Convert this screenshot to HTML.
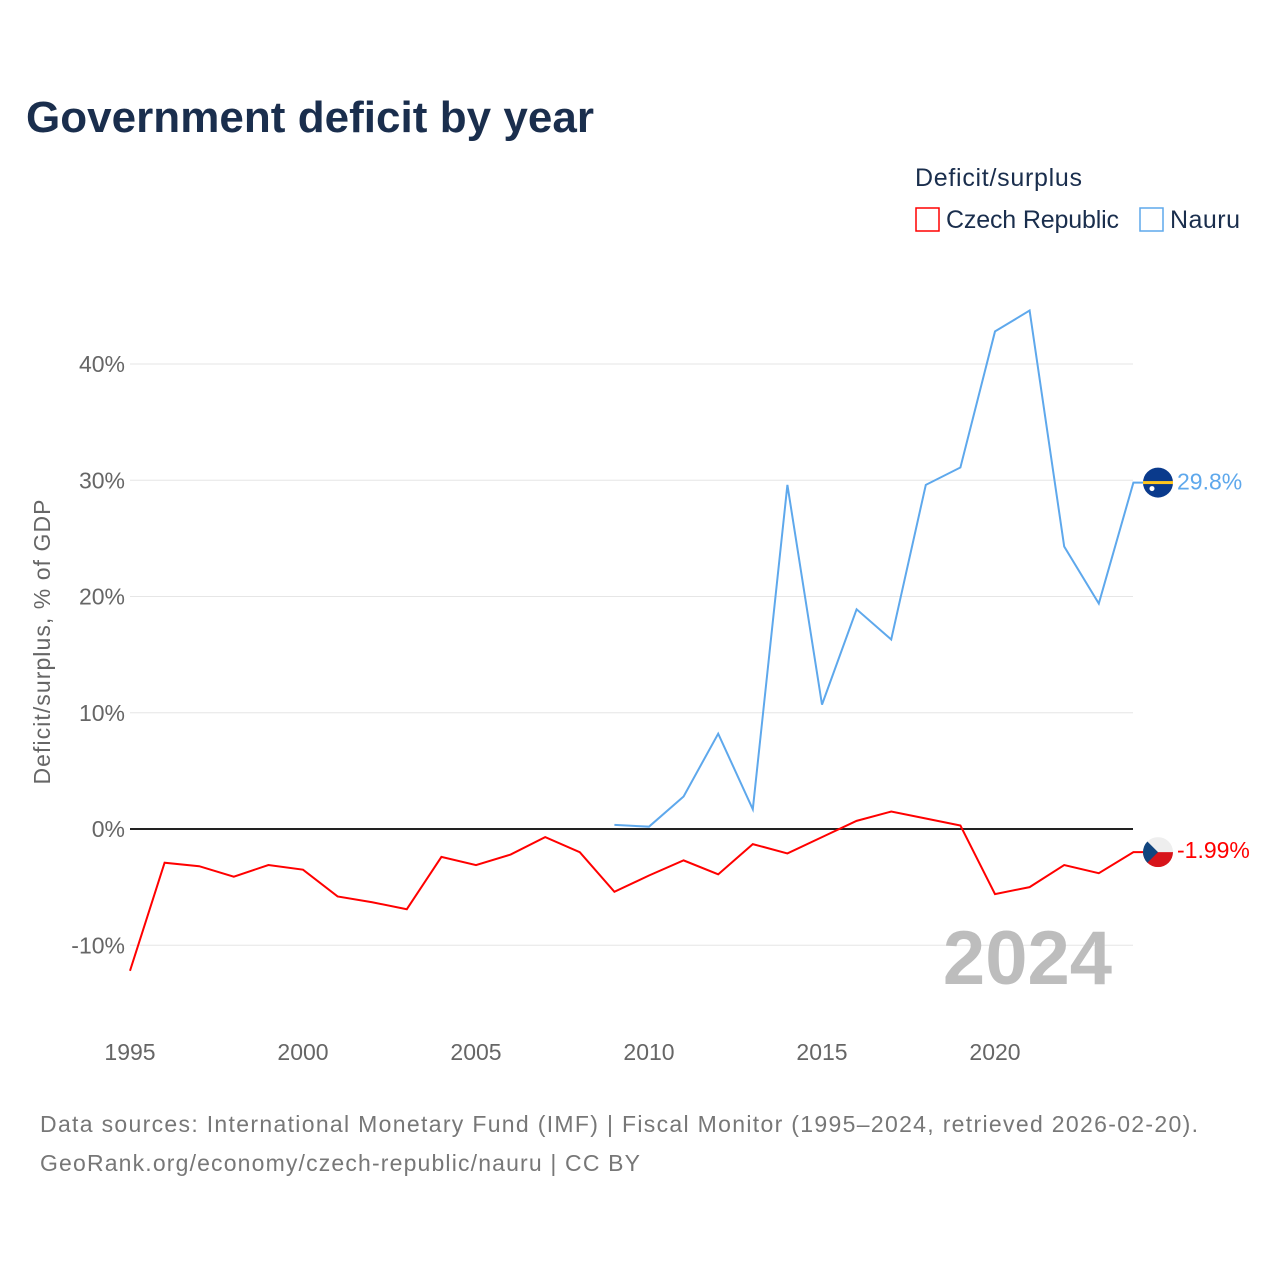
<!DOCTYPE html>
<html><head><meta charset="utf-8">
<style>
body{margin:0;background:#fff;font-family:"Liberation Sans",sans-serif}
#wrap{position:relative;width:1280px;height:1280px;overflow:hidden}
</style></head>
<body>
<div id="wrap">
<svg id="chart" width="1280" height="1280" style="font-family:'Liberation Sans',sans-serif"></svg>
</div>
<script>
const years = [1995,1996,1997,1998,1999,2000,2001,2002,2003,2004,2005,2006,2007,2008,2009,2010,2011,2012,2013,2014,2015,2016,2017,2018,2019,2020,2021,2022,2023,2024];
const czechValues = [-12.2,-2.9,-3.2,-4.1,-3.1,-3.5,-5.8,-6.3,-6.9,-2.4,-3.1,-2.2,-0.7,-2.0,-5.4,-4.0,-2.7,-3.9,-1.3,-2.1,-0.7,0.7,1.5,0.9,0.3,-5.6,-5.0,-3.1,-3.8,-1.99];
const nauruYears = [2009,2010,2011,2012,2013,2014,2015,2016,2017,2018,2019,2020,2021,2022,2023,2024];
const nauruValues = [0.35,0.2,2.8,8.2,1.7,29.6,10.7,18.9,16.3,29.6,31.1,42.8,44.6,24.3,19.4,29.8];
const yTicks = [-10,0,10,20,30,40];
const yTickLabels = ["-10%","0%","10%","20%","30%","40%"];
const xTicks = [1995,2000,2005,2010,2015,2020];

const NS="http://www.w3.org/2000/svg";
const svg=document.getElementById('chart');
const X=y=>130+(y-1995)*(1133.4-130)/29;
const Y=v=>829-v*11.625;
function el(tag,attrs,parent){const e=document.createElementNS(NS,tag);for(const k in attrs)e.setAttribute(k,attrs[k]);(parent||svg).appendChild(e);return e;}
function txt(s,attrs){const t=el('text',attrs);t.textContent=s;return t;}

let t;
t=txt("Government deficit by year",{x:26,y:132,'font-size':44,'font-weight':'bold',fill:'#1a2e4d',textLength:568});


t=txt("Deficit/surplus",{x:915,y:186,'font-size':25,fill:'#1a2e4d',textLength:167});

let g=el('g',{});
el('rect',{x:916,y:208,width:23,height:23,fill:'none',stroke:'#ff0000','stroke-width':1.5},g);
let lt=el('text',{x:946,y:228,'font-size':25,fill:'#1a2e4d',textLength:173},g);lt.textContent="Czech Republic";
g=el('g',{});
el('rect',{x:1140,y:208,width:23,height:23,fill:'none',stroke:'#5ea8ec','stroke-width':1.5},g);
lt=el('text',{x:1170,y:228,'font-size':25,fill:'#1a2e4d',textLength:70},g);lt.textContent="Nauru";

yTicks.forEach((v,i)=>{
  const l=el('line',{x1:130,x2:1133,y1:Y(v),y2:Y(v),stroke:v===0?'#222':'#e6e6e6','stroke-width':v===0?2:1});
  
  const tt=txt(yTickLabels[i],{x:125,y:Y(v)+8,'font-size':23,fill:'#666','text-anchor':'end'});
  
});
xTicks.forEach(y=>{
  const tt=txt(String(y),{x:X(y),y:1060,'font-size':23,fill:'#666','text-anchor':'middle'});
  
});
t=txt("Deficit/surplus, % of GDP",{x:0,y:0,'font-size':23,fill:'#666','text-anchor':'middle',textLength:285,transform:'translate(50,642) rotate(-90)'});


t=txt("2024",{x:1112,y:984,'font-size':76,'font-weight':'bold',fill:'#bdbdbd','text-anchor':'end'});


const nv=nauruValues[nauruValues.length-1], cv=czechValues[czechValues.length-1];
const cx=1158;
let p=el('polyline',{points:nauruYears.map((y,i)=>X(y)+','+Y(nauruValues[i])).join(' ')+' '+(cx-12)+','+Y(nv),fill:'none',stroke:'#5ea8ec','stroke-width':2});

p=el('polyline',{points:years.map((y,i)=>X(y)+','+Y(czechValues[i])).join(' ')+' '+(cx-12)+','+Y(cv),fill:'none',stroke:'#ff0000','stroke-width':2});


g=el('g',{});
el('circle',{cx:cx,cy:Y(nv),r:15,fill:'#0a3a8c'},g);
el('rect',{x:cx-15,y:Y(nv)-1.5,width:30,height:3,fill:'#ffc61e'},g);
el('circle',{cx:cx-6,cy:Y(nv)+6,r:2.5,fill:'#fff'},g);
t=txt(nv.toFixed(1)+"%",{x:1177,y:Y(nv)+7,'font-size':23,fill:'#5ea8ec'});


g=el('g',{});
const cy=Y(cv);
el('clipPath',{id:'cc'},g);
el('circle',{cx:cx,cy:cy,r:15},g.querySelector('clipPath'));
const gg=el('g',{'clip-path':'url(#cc)'},g);
el('rect',{x:cx-15,y:cy-15,width:30,height:15,fill:'#eee'},gg);
el('rect',{x:cx-15,y:cy,width:30,height:15,fill:'#d7141a'},gg);
el('polygon',{points:`${cx-15},${cy-15} ${cx},${cy} ${cx-15},${cy+15}`,fill:'#11457e'},gg);
t=txt(cv.toFixed(2)+"%",{x:1177,y:cy+6,'font-size':23,fill:'#ff0000'});


t=txt("Data sources: International Monetary Fund (IMF) | Fiscal Monitor (1995–2024, retrieved 2026-02-20).",{x:40,y:1132,'font-size':23,fill:'#777',textLength:1158});

t=txt("GeoRank.org/economy/czech-republic/nauru | CC BY",{x:40,y:1171,'font-size':23,fill:'#777',textLength:600});

</script>
</body></html>
